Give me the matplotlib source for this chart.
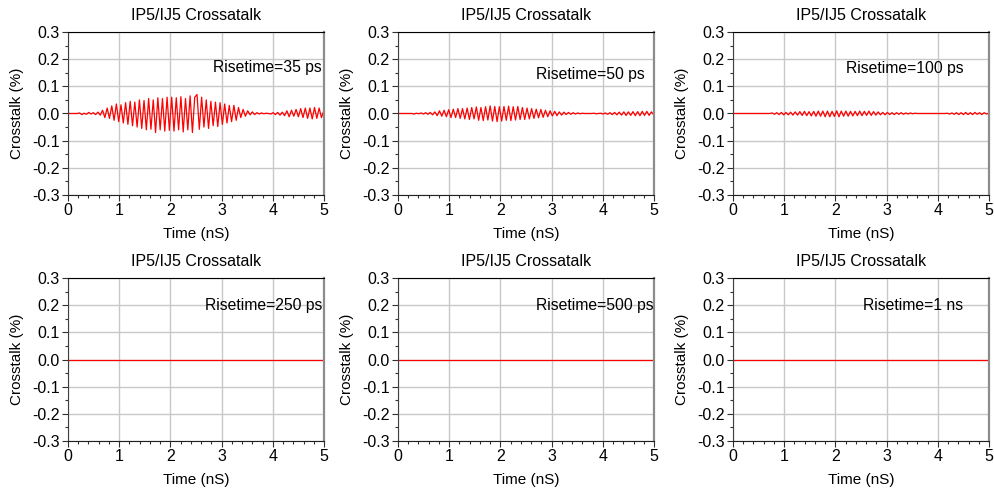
from __future__ import annotations

import matplotlib

matplotlib.use("Agg")
import matplotlib.pyplot as plt
import numpy as np
from matplotlib.ticker import MultipleLocator

plt.rcParams["font.family"] = ["Liberation Sans", "DejaVu Sans"]

# sample spacing of the waveforms below (ns)
STEP_NS = 0.045

# crosstalk (%), one sample every STEP_NS
xt_35ps = [
    0, 0, 0, 0, 0,
    0.002, -0.004, 0.001, -0.003, 0.004, -0.002, 0.003, -0.004, 0.005, -0.006,
    0.012, -0.015, 0.02, -0.018, 0.028, -0.025, 0.035, -0.03,
    0.032, -0.035, 0.04, -0.04, 0.045, -0.045, 0.042, -0.05, 0.05, -0.055, 0.048,
    -0.06, 0.055, -0.058, 0.05, -0.07, 0.058, -0.06, 0.055, -0.065, 0.06, -0.062,
    0.06, -0.065, 0.058, -0.06, 0.062, -0.068, 0.055, -0.06, 0.065, -0.07, 0.06,
    0.07, -0.058, 0.06, -0.05, 0.05, -0.055, 0.045, -0.045, 0.042, -0.048, 0.04,
    -0.04, 0.035, -0.035, 0.03, -0.03, 0.03, -0.025, 0.022, -0.015, 0.015, -0.01,
    0.01, -0.005, 0.006, -0.004, 0.003, -0.002, 0.002, -0.001, 0.001, 0.0, -0.002,
    0.003, -0.004, 0.004, -0.006, 0.005, -0.008, 0.01, -0.012, 0.012, -0.01, 0.015,
    -0.012, 0.018, -0.015, 0.02, -0.018, 0.02, -0.02, 0.022, -0.018, 0.02, -0.015, 0.01,
]
xt_50ps = [
    0, 0, 0, 0, 0, 0,
    0.0, -0.002, 0.001, -0.001, 0.002, -0.002, 0.003, -0.003, 0.004, -0.005,
    0.006, -0.008, 0.01, -0.01, 0.012, -0.012, 0.014, -0.015, 0.016, -0.015, 0.018,
    -0.018, 0.018, -0.02, 0.02, -0.022, 0.022, -0.02, 0.024, -0.025, 0.022, -0.026,
    0.025, -0.024, 0.028, -0.028, 0.026, -0.03, 0.025, -0.028, 0.026, -0.025, 0.027,
    -0.026, 0.025, -0.024, 0.026, -0.022, 0.022, -0.022, 0.02, -0.02, 0.018, -0.018,
    0.016, -0.016, 0.015, -0.014, 0.012, -0.012, 0.01, -0.009, 0.008, -0.008, 0.006,
    -0.006, 0.005, -0.004, 0.004, -0.003, 0.003, -0.002, 0.002, -0.001, 0.001, 0.0,
    0, 0, 0, 0.001, -0.001, 0.0, 0.001, -0.002,
    0.002, -0.003, 0.003, -0.004, 0.004, -0.005, 0.005, -0.006, 0.006, -0.007, 0.006,
    -0.007, 0.007, -0.008, 0.007, -0.008, 0.008, -0.007, 0.008, -0.007, 0.006, -0.005,
]
xt_100ps = [
    0, 0, 0, 0, 0, 0, 0, 0, 0, 0, 0, 0, 0, 0, 0, 0, 0,
    0.002, -0.003, 0.003, -0.004, 0.004, -0.005, 0.004, -0.005, 0.005, -0.006, 0.006, -0.006,
    0.007, -0.007, 0.008, -0.008, 0.007, -0.009, 0.008, -0.01, 0.009, -0.01, 0.009,
    -0.012, 0.009, -0.012, 0.008, -0.011, 0.01, -0.012, 0.009, -0.01, 0.009, -0.01,
    0.008, -0.009, 0.008, -0.008, 0.009, -0.008, 0.008, -0.007, 0.009, -0.007, 0.007,
    -0.006, 0.006, -0.005, 0.004, -0.005, 0.004, -0.004, 0.003, -0.004, 0.003, -0.003,
    0.003, -0.003, 0.002, -0.002, 0.002, -0.001, 0.001, 0.0, 0.0,
    0, 0, 0, 0, 0, 0, 0, 0, 0, 0, 0,
    0.001, -0.002, 0.002, -0.003, 0.003, -0.004, 0.003, -0.004, 0.004, -0.004,
    0.003, -0.004, 0.004, -0.003, 0.003, -0.004, 0.003, -0.002, 0.001,
]
# slow edges: no visible crosstalk
flat_t = [0.0, 5.0]
flat_xt = [0.0, 0.0]

risetimes = ["35 ps", "50 ps", "100 ps", "250 ps", "500 ps", "1 ns"]
label_pos = [(2.84, 0.171), (2.70, 0.142), (2.20, 0.167),
             (2.67, 0.200), (2.70, 0.200), (2.53, 0.200)]


def _style(ax) -> None:
    ax.set_xlim(0, 5)
    ax.set_ylim(-0.3, 0.3)
    ax.xaxis.set_major_locator(MultipleLocator(1))
    ax.xaxis.set_minor_locator(MultipleLocator(0.2))
    ax.yaxis.set_major_locator(MultipleLocator(0.1))
    ax.yaxis.set_minor_locator(MultipleLocator(0.05))
    ax.yaxis.set_major_formatter(lambda v, _: f"{v:.1f}".replace("-0.0", "0.0"))
    ax.tick_params(which="major", direction="out", length=4, width=0.8,
                   labelsize=11.5, pad=2, color="#303030")
    ax.tick_params(which="minor", direction="out", length=2.5, width=0.8,
                   color="#303030")
    ax.grid(True, which="major", color="#c8c8c8", linewidth=1.0)
    ax.set_axisbelow(True)
    ax.spines["left"].set_color("#404040")
    ax.spines["bottom"].set_color("#202020")
    ax.spines["top"].set_color("#000000")
    ax.spines["right"].set_color("#8c8c8c")
    ax.spines["right"].set_linewidth(1.6)
    ax.set_title("IP5/IJ5 Crossatalk", fontsize=11.5, pad=9)
    ax.set_xlabel("Time (nS)", fontsize=11, labelpad=6)
    ax.set_ylabel("Crosstalk (%)", fontsize=11, labelpad=6)


def main() -> None:
    fig = plt.figure(figsize=(9.95, 4.94), dpi=100)
    lefts = [68 / 995, 398 / 995, 733 / 995]
    bottoms = [(494 - 195) / 494, (494 - 441) / 494]
    w, h = 256 / 995, 163 / 494

    series = [xt_35ps, xt_50ps, xt_100ps]
    for i, rt in enumerate(risetimes):
        ax = fig.add_axes([lefts[i % 3], bottoms[i // 3], w, h])
        _style(ax)
        if i < 3:
            ys = np.array(series[i], dtype=float)
            ts = np.arange(len(ys)) * STEP_NS
        else:
            ts, ys = flat_t, flat_xt
        ax.plot(ts, ys, color="red", linewidth=0.9, clip_on=True)
        lx, ly = label_pos[i]
        ax.text(lx, ly, f"Risetime={rt}", fontsize=11.3, ha="left",
                va="center", clip_on=False)

    fig.savefig("out.png", dpi=100)
    plt.close(fig)


if __name__ == "__main__":
    main()
